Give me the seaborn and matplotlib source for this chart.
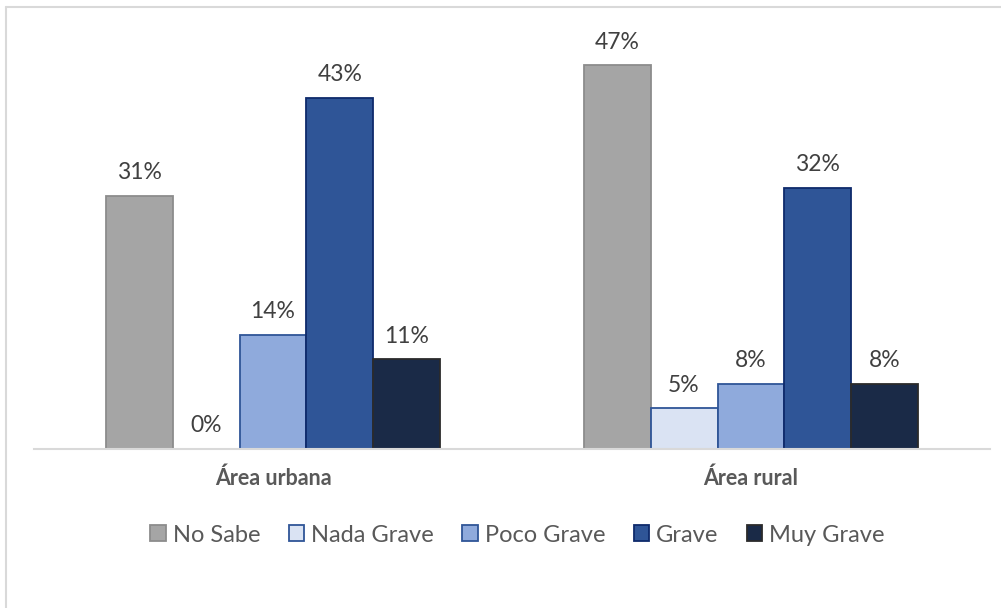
import pandas as pd
import matplotlib.pyplot as plt
import seaborn as sns
from matplotlib.lines import Line2D

# data
areas = ['Área urbana', 'Área rural']
levels = ['No Sabe', 'Nada Grave', 'Poco Grave', 'Grave', 'Muy Grave']
urbana = [0.31, 0.00, 0.14, 0.43, 0.11]
rural = [0.47, 0.05, 0.08, 0.32, 0.08]

fills = ['#A5A5A5', '#DAE3F3', '#8FAADC', '#2F5597', '#1A2A47']
edges = ['#8C8C8C', '#2F5597', '#2F5597', '#0E2A6B', '#2B2B2B']

df = pd.DataFrame({
    'area': [a for a in areas for _ in levels],
    'nivel': levels * len(areas),
    'valor': urbana + rural,
})

sns.set_style('white')
plt.rcParams['font.family'] = ['Lato', 'DejaVu Sans']

fig = plt.figure(figsize=(10.01, 6.08), dpi=100)
ax = fig.add_axes([34 / 1001, 1 - 449 / 608, 956 / 1001, 408.5 / 608])

sns.barplot(data=df, x='area', y='valor', hue='nivel', hue_order=levels,
            palette=fills, saturation=1, width=0.70, gap=0, ax=ax, legend=False)

for cont, ec in zip(ax.containers, edges):
    for bar in cont:
        bar.set_edgecolor(ec)
        bar.set_linewidth(1.3)
    ax.bar_label(cont, labels=[f'{v * 100:.0f}%' for v in cont.datavalues],
                 padding=9, fontsize=16.5, color='#404040')

ax.set_ylim(0, 0.5)
ax.set_xlim(-0.5, 1.5)
ax.set_yticks([])
ax.set_xlabel('')
ax.set_ylabel('')
for s in ['top', 'right', 'left']:
    ax.spines[s].set_visible(False)
ax.spines['bottom'].set_color('#D9D9D9')
ax.spines['bottom'].set_linewidth(1.5)
ax.tick_params(axis='x', length=0, pad=13)
for lab in ax.get_xticklabels():
    lab.set_fontweight('bold')
    lab.set_fontsize(15.5)
    lab.set_color('#595959')

handles = [plt.Rectangle((0, 0), 1, 1, facecolor=f, edgecolor=e, linewidth=1.3)
           for f, e in zip(fills, edges)]
fig.legend(handles, levels, loc='center', bbox_to_anchor=(0.517, 1 - 535 / 608),
           ncol=5, frameon=False, fontsize=17, labelcolor='#595959',
           handlelength=0.65, handleheight=0.65, handletextpad=0.3, columnspacing=1.2)

# light frame of the chart area
fig.add_artist(Line2D([6 / 1001, 6 / 1001], [0, 1 - 7 / 608], color='#D9D9D9', lw=1.5))
fig.add_artist(Line2D([6 / 1001, 1], [1 - 7 / 608, 1 - 7 / 608], color='#D9D9D9', lw=1.5))

fig.savefig('out.png', dpi=100, facecolor='white')
